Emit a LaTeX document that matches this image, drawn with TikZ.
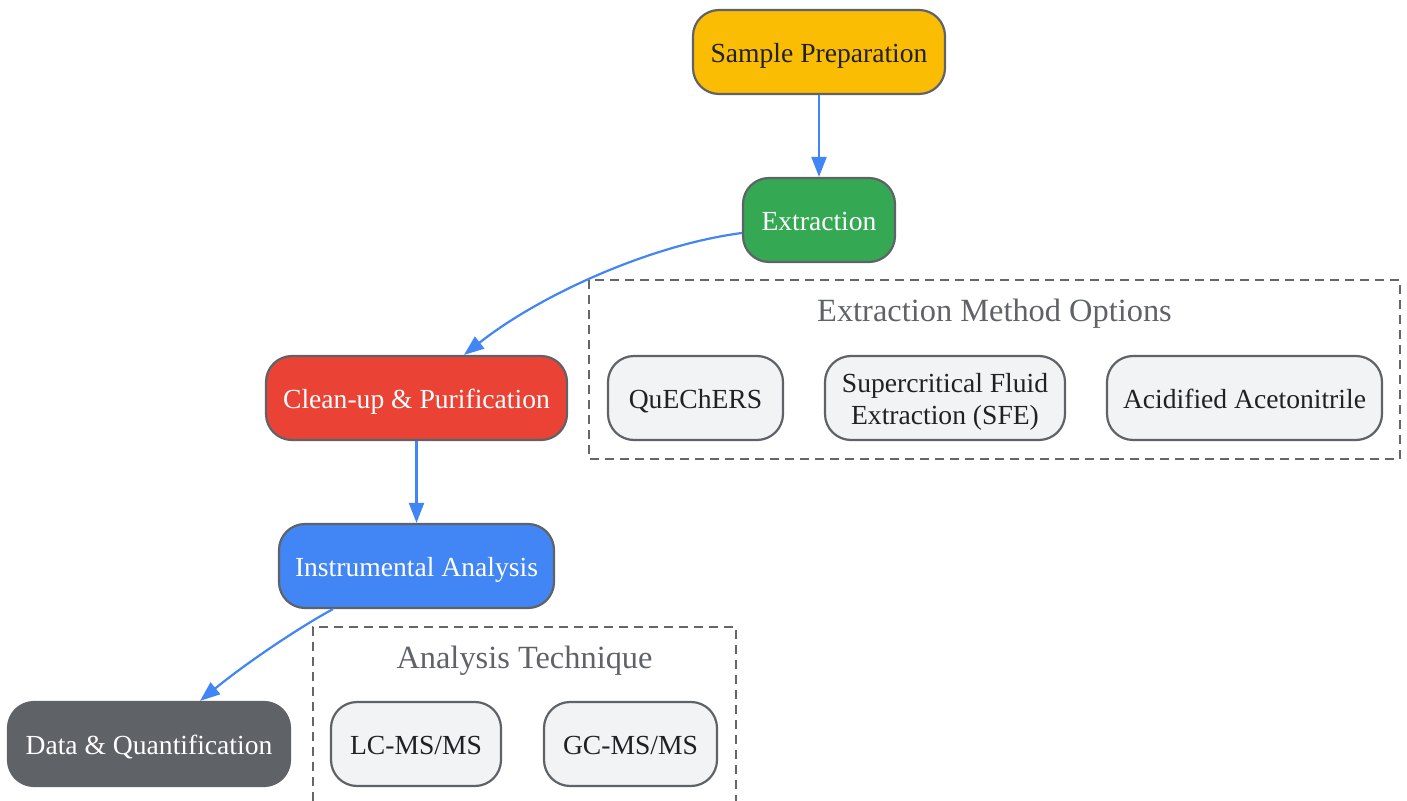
\documentclass[tikz,border=0pt]{standalone}
\usepackage{fontspec}
\setmainfont{Liberation Serif}
\usetikzlibrary{arrows.meta}
\definecolor{gyellow}{HTML}{FBBC04}
\definecolor{ggreen}{HTML}{34A853}
\definecolor{gred}{HTML}{EA4335}
\definecolor{gblue}{HTML}{4285F4}
\definecolor{ggray}{HTML}{5F6368}
\definecolor{glight}{HTML}{F1F3F4}
\definecolor{gdark}{HTML}{202124}
\definecolor{gframe}{HTML}{666666}
\begin{document}
\begin{tikzpicture}[x=0.5pt,y=-0.5pt,
    box/.style={draw=ggray,line width=1.1pt,rounded corners=13pt,minimum height=42pt,
      inner sep=0pt,text height=12pt,text depth=1.4pt,font=\fontsize{13.8}{16}\selectfont},
    opt/.style={box,fill=glight,text=gdark,align=center},
    grouptitle/.style={text=ggray,font=\fontsize{16.2}{19}\selectfont},
    group/.style={draw=gframe,line width=1.1pt,dash pattern=on 4.5pt off 3pt},
    flow/.style={draw=gblue,line width=1.1pt,-{Triangle[length=10pt,width=7.5pt]}}]
  \useasboundingbox (0,0) rectangle (1407,801);
  % groups
  \draw[group] (589,280) rectangle (1400,459);
  \node[grouptitle] (exttitle) at (994.5,314) {Extraction Method Options};
  \draw[group] (313,801) -- (313,627) -- (736,627) -- (736,801);
  \node[grouptitle] (anatitle) at (524.5,661) {Analysis Technique};
  % main steps
  \node[box,fill=gyellow,text=gdark,minimum width=126pt] (sample) at (819,52) {Sample Preparation};
  \node[box,fill=ggreen,text=white,minimum width=76pt] (extract) at (819,220) {Extraction};
  \node[box,fill=gred,text=white,minimum width=150.5pt] (cleanup) at (416.5,398) {Clean-up \& Purification};
  \node[box,fill=gblue,text=white,minimum width=137.5pt] (instr) at (416.5,566) {Instrumental Analysis};
  \node[box,fill=ggray,text=white,minimum width=141pt] (data) at (149,744) {Data \& Quantification};
  % options
  \node[opt,minimum width=87.5pt] (quechers) at (695.5,398) {QuEChERS};
  \node[opt,minimum width=120pt,text height=28pt,text depth=1.6pt] (sfe) at (945,398) {Supercritical Fluid\\Extraction (SFE)};
  \node[opt,minimum width=137.5pt] (acid) at (1244.5,398) {Acidified Acetonitrile};
  \node[opt,minimum width=85pt] (lcms) at (416,744) {LC-MS/MS};
  \node[opt,minimum width=86.5pt] (gcms) at (630.5,744) {GC-MS/MS};
  % connectors
  \draw[flow] (sample) -- (extract);
  \draw[flow] (extract.west |- 0,233) .. controls (650,245) and (540,295) .. (cleanup.north -| 464,0);
  \draw[flow] (cleanup) -- (instr);
  \draw[flow] (instr.south -| 333,0) .. controls (305,624) and (250,660) .. (data.north -| 200,0);
\end{tikzpicture}
\end{document}
